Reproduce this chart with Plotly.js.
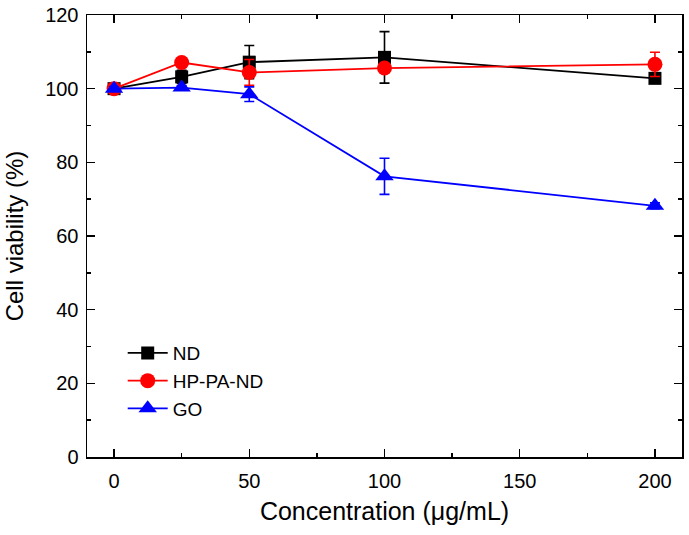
<!DOCTYPE html>
<html>
<head>
<meta charset="utf-8">
<script src="https://cdn.plot.ly/plotly-3.0.1.min.js"></script>
<style>html,body{margin:0;padding:0;background:#fff;}#chart{width:689px;height:535px;}</style>
</head>
<body>
<div id="chart"></div>
<script>
const concentrations = [0, 25, 50, 100, 200];
const ndValues = [100, 103.2, 107.2, 108.5, 102.8];
const ndErrors = [0.8, 1.8, 4.5, 7.0, 1.2];
const hpValues = [100, 107.1, 104.4, 105.6, 106.6];
const hpErrors = [0.8, 1.0, 3.5, 1.0, 3.3];
const goValues = [100, 100.3, 98.5, 76.2, 68.2];
const goErrors = [0.5, 0.5, 2.0, 4.9, 0.8];
const seriesNames = ['ND', 'HP-PA-ND', 'GO'];

const font = 'Liberation Sans, Arial, sans-serif';
function mk(name, y, err, color, symbol, size) {
  return {
    x: concentrations, y: y, name: name, type: 'scatter', mode: 'lines+markers',
    line: {color: color, width: 1.8},
    marker: {color: color, symbol: symbol, size: size},
    error_y: {type: 'data', array: err, visible: true, color: color, thickness: 1.6, width: 5}
  };
}
const traces = [
  mk(seriesNames[0], ndValues, ndErrors, '#000000', 'square', 13),
  mk(seriesNames[1], hpValues, hpErrors, '#ff0000', 'circle', 15),
  mk(seriesNames[2], goValues, goErrors, '#0000ff', 'triangle-up', 16)
];
const axisCommon = {
  showline: true, linecolor: '#000', linewidth: 1.5, mirror: 'ticks',
  ticks: 'inside', ticklen: 8, tickwidth: 1.5, tickcolor: '#000',
  showgrid: false, zeroline: false,
  tickfont: {family: font, size: 20, color: '#000'}
};
const layout = {
  width: 689, height: 535,
  margin: {l: 87, r: 7, t: 15, b: 78},
  paper_bgcolor: '#fff', plot_bgcolor: '#fff',
  showlegend: true,
  legend: {x: 0.06, y: 0.278, xanchor: 'left', yanchor: 'top', bgcolor: 'rgba(0,0,0,0)',
           font: {family: font, size: 19, color: '#000'}, tracegroupgap: 0, itemwidth: 40},
  xaxis: Object.assign({}, axisCommon, {
    range: [-10, 210], tickvals: [0, 50, 100, 150, 200], ticklabelstandoff: 5,
    minor: {tickvals: [25, 75, 125, 175], ticks: 'inside', ticklen: 4, tickwidth: 1.5, tickcolor: '#000'},
    title: {text: 'Concentration (μg/mL)', font: {family: font, size: 25, color: '#000'}, standoff: 12}
  }),
  yaxis: Object.assign({}, axisCommon, {
    range: [0, 120], tickvals: [0, 20, 40, 60, 80, 100, 120], ticklabelstandoff: 3,
    minor: {tickvals: [10, 30, 50, 70, 90, 110], ticks: 'inside', ticklen: 4, tickwidth: 1.5, tickcolor: '#000'},
    title: {text: '\u00a0\u00a0\u00a0\u00a0\u00a0\u00a0Cell viability (%)', font: {family: font, size: 24, color: '#000'}, standoff: 14}
  })
};
Plotly.newPlot('chart', traces, layout, {displayModeBar: false, staticPlot: true});
</script>
</body>
</html>
